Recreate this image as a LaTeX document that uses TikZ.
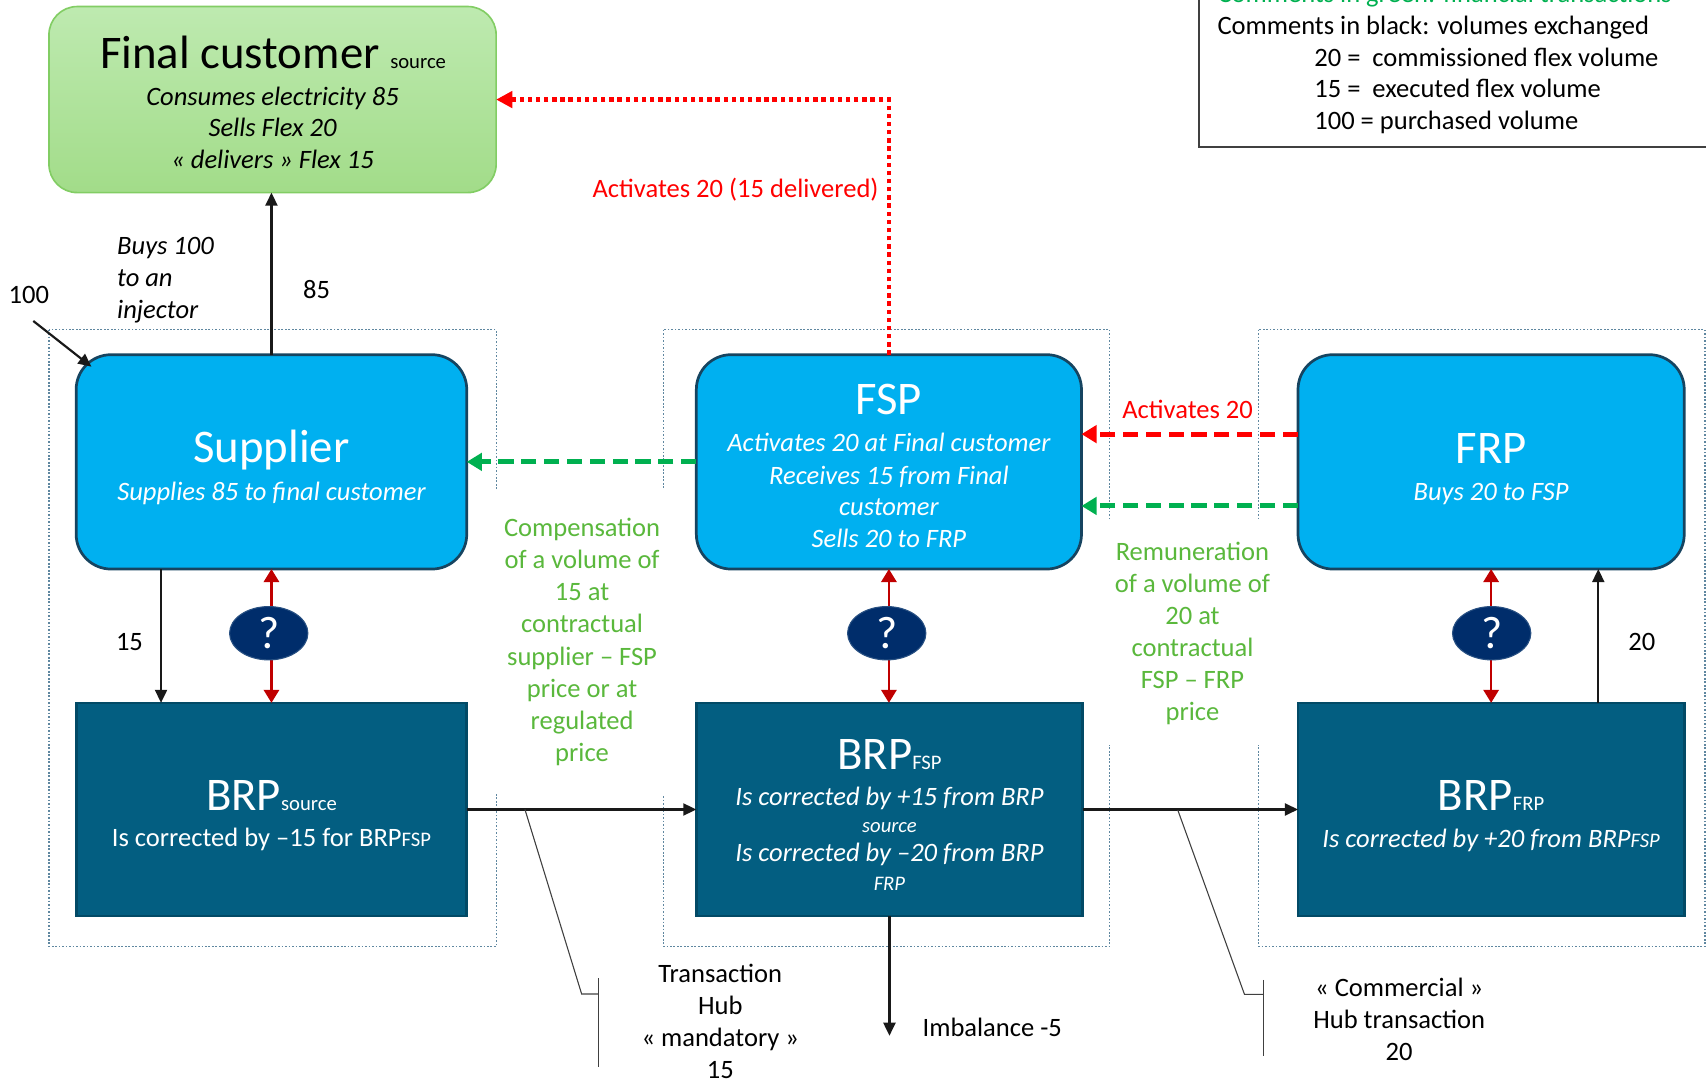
\documentclass[tikz,border=0pt]{standalone}
\usepackage{fontspec}
\setmainfont{Carlito}
\usetikzlibrary{arrows.meta,shapes.geometric,calc}

\definecolor{cyanfill}{RGB}{0,176,240}
\definecolor{cyanborder}{RGB}{22,68,96}
\definecolor{brpfill}{RGB}{3,94,129}
\definecolor{brpborder}{RGB}{2,74,102}
\definecolor{qfill}{RGB}{0,45,107}
\definecolor{qborder}{RGB}{40,80,130}
\definecolor{darkred}{RGB}{192,0,0}
\definecolor{arrgreen}{RGB}{0,176,80}
\definecolor{txtgreen}{RGB}{90,184,60}
\definecolor{dotcol}{RGB}{95,135,160}
\definecolor{fctop}{RGB}{190,234,176}
\definecolor{fcbot}{RGB}{162,220,137}
\definecolor{fcborder}{RGB}{130,205,100}

\newcommand\mybody{\fontsize{24.4}{29.5}\selectfont}
\newcommand\mytitle{\fontsize{43}{50}\selectfont}
\newcommand\mysmall{\fontsize{19}{22}\selectfont}
\newcommand\myq{\fontsize{42}{46}\selectfont}

\tikzset{
  every node/.style={inner sep=0pt, outer sep=0pt},
  cyanbox/.style={draw=cyanborder, line width=2.5pt, fill=cyanfill, rounded corners=32pt},
  brpbox/.style={draw=brpborder, line width=2.5pt, fill=brpfill},
  fcbox/.style={draw=fcborder, line width=1.5pt, top color=fctop, bottom color=fcbot, rounded corners=26pt},
  wtxt/.style={text=white, font=\mybody},
  btxt/.style={text=black, font=\mybody},
  redtxt/.style={text=red, font=\mybody},
  grtxt/.style={text=txtgreen, font=\mybody, align=center, fill=white},
  qell/.style={ellipse, fill=qfill, draw=qborder, line width=1pt, minimum width=72pt, minimum height=49pt, text=white, font=\myq},
  blk/.style={line width=2pt, draw=black!90, -{Triangle[length=12pt,width=11pt]}},
  reddbl/.style={line width=2.4pt, draw=darkred, {Triangle[length=12pt,width=14pt]}-{Triangle[length=12pt,width=14pt]}},
  reddot/.style={line width=4pt, draw=red, dash pattern=on 4pt off 3.5pt, -{Triangle[length=15pt,width=15pt]}},
  reddash/.style={line width=4.5pt, draw=red, dash pattern=on 14pt off 7pt, -{Triangle[length=14pt,width=16pt]}},
  grdash/.style={line width=4.5pt, draw=arrgreen, dash pattern=on 14pt off 7pt, -{Triangle[length=14pt,width=16pt]}},
  thinln/.style={line width=1pt, draw=black!75},
  dotbox/.style={draw=dotcol, line width=1.1pt, dash pattern=on 1.6pt off 1.6pt},
  legendln/.style={draw=black!75, line width=1.3pt}
}

\begin{document}
\begin{tikzpicture}[x=1pt,y=-1pt]
\path[use as bounding box] (0,0) rectangle (1568,994);

% legend
\draw[legendln] (1102,-10) -- (1102,135) -- (1580,135);
\node[anchor=base west, text=arrgreen, font=\mybody] (lg0) at (1119,2.5) {Comments in green: financial transactions};
\node[anchor=base west, btxt] (lg1) at (1119,31.6) {Comments in black: volumes exchanged};
\node[anchor=base west, btxt] (lg2) at (1208,60.7) {20 =\ \ commissioned flex volume};
\node[anchor=base west, btxt] (lg3) at (1208,89.8) {15 =\ \ executed flex volume};
\node[anchor=base west, btxt] (lg4) at (1208,118.8) {100 = purchased volume};

% dotted group frames
\draw[dotbox] (45,303) rectangle (456,870);
\draw[dotbox] (610,303) rectangle (1020,870);
\draw[dotbox] (1157,303) rectangle (1567,870);

% green comment texts (white background hides the frames)
\node[grtxt, minimum width=176pt, minimum height=279pt] (comp) at (535,590)
  {Compensation\\of a volume of\\15 at\\contractual\\supplier – FSP\\price or at\\regulated\\price};
\node[grtxt, minimum width=170pt, minimum height=206pt] (remu) at (1096,582)
  {Remuneration\\of a volume of\\20 at\\contractual\\FSP – FRP\\price};

% main boxes
\node[fcbox, minimum width=411pt, minimum height=171pt] (fc) at (250.5,91.5) {};
\node[cyanbox, minimum width=359pt, minimum height=197pt] (sup) at (249.5,424.5) {};
\node[cyanbox, minimum width=354pt, minimum height=197pt] (fsp) at (817,424.5) {};
\node[cyanbox, minimum width=355pt, minimum height=197pt] (frp) at (1370.5,424.5) {};
\node[brpbox, minimum width=359pt, minimum height=196pt] (brps) at (249.5,744) {};
\node[brpbox, minimum width=355pt, minimum height=196pt] (brpf) at (817.5,744) {};
\node[brpbox, minimum width=355pt, minimum height=196pt] (brpr) at (1370.5,744) {};

% texts in boxes
\node[anchor=base] (fcT) at (251,62.8) {{\mytitle Final customer }{\mysmall source}};
\node[anchor=base, btxt, font=\mybody\itshape] (fc1) at (250.5,97.4) {Consumes electricity 85};
\node[anchor=base, btxt, font=\mybody\itshape] (fc2) at (250.5,125.6) {Sells Flex 20};
\node[anchor=base, btxt, font=\mybody\itshape] (fc3) at (250.5,154.6) {« delivers » Flex 15};

\node[anchor=base, text=white, font=\mytitle] (supT) at (249.5,425) {Supplier};
\node[anchor=base, wtxt, font=\mybody\itshape] (supS) at (249.5,460) {Supplies 85 to final customer};

\node[anchor=base, text=white, font=\mytitle] (fspT) at (817,381.4) {FSP};
\node[anchor=base, wtxt, font=\mybody\itshape] (fsp1) at (817,415) {Activates 20 at Final customer};
\node[anchor=base, wtxt, font=\mybody\itshape] (fsp2) at (817,445) {Receives 15 from Final};
\node[anchor=base, wtxt, font=\mybody\itshape] (fsp3) at (817,474) {customer};
\node[anchor=base, wtxt, font=\mybody\itshape] (fsp4) at (817,503) {Sells 20 to FRP};

\node[anchor=base, text=white, font=\mytitle] (frpT) at (1370.5,425.7) {FRP};
\node[anchor=base, wtxt, font=\mybody\itshape] (frpS) at (1370.5,459.6) {Buys 20 to FSP};

\node[anchor=base, text=white] (brpsT) at (249.5,744.5) {{\mytitle BRP}{\mysmall source}};
\node[anchor=base, wtxt] (brpsS) at (249.5,778) {Is corrected by –15 for BRP{\mysmall FSP}};

\node[anchor=base, text=white] (brpfT) at (817.5,707) {{\mytitle BRP}{\mysmall FSP}};
\node[anchor=base, wtxt, font=\mybody\itshape] (brpf1) at (817.5,740) {Is corrected by +15 from BRP};
\node[anchor=base, text=white, font=\mysmall\itshape] (brpf2) at (817.5,765) {source};
\node[anchor=base, wtxt, font=\mybody\itshape] (brpf3) at (817.5,792) {Is corrected by –20 from BRP};
\node[anchor=base, text=white, font=\mysmall\itshape] (brpf4) at (817.5,818) {FRP};

\node[anchor=base, text=white] (brprT) at (1370.5,744.5) {{\mytitle BRP}{\mysmall FRP}};
\node[anchor=base, wtxt, font=\mybody\itshape] (brprS) at (1370.5,778.6) {Is corrected by +20 from BRP{\mysmall FSP}};

% coordinates for free ends
\coordinate (c100s) at (30.6,295);
\coordinate (c100e) at (84,337);
\coordinate (imb) at (817.5,952);

% connectors
\draw[blk] (sup.north) -- (sup.north |- fc.south);
\draw[blk] (c100s) -- (c100e);
\draw[blk] ([xshift=-101.5pt]sup.south) -- ([xshift=-101.5pt]brps.north);
\draw[blk] ([xshift=98.5pt]brpr.north) -- ([xshift=98.5pt]frp.south);
\draw[blk] (brps.east) -- (brpf.west);
\draw[blk] (brpf.east) -- (brpr.west);
\draw[blk] (brpf.south) -- (imb);

\draw[reddbl] (sup.south) -- (brps.north);
\draw[reddbl] (fsp.south) -- (fsp.south |- brpf.north);
\draw[reddbl] (frp.south) -- (brpr.north);

\node[qell] (q1) at (247,582) {?};
\node[qell] (q2) at (815,582) {?};
\node[qell] (q3) at (1371,582) {?};

\draw[reddot] (fsp.north) |- (fc.east);
\draw[reddash] ([yshift=25.5pt]frp.west) -- ([yshift=25.5pt]fsp.east);
\draw[grdash] ([yshift=-40.5pt]frp.west) -- ([yshift=-40.5pt]fsp.east);
\draw[grdash] (fsp.west) -- (sup.east);

% labels
\node[btxt] (l85) at (291,266) {85};
\node[btxt] (l100) at (26.5,270.7) {100};
\node[btxt, align=left, anchor=west, font=\mybody\itshape] (buys) at (107.7,257.5) {Buys 100\\to an\\injector};
\node[btxt] (l15) at (119,590) {15};
\node[btxt] (l20) at (1509,590) {20};
\node[btxt] (imbT) at (912,944) {Imbalance -5};
\node[redtxt] (act1) at (676,174) {Activates 20 (15 delivered)};
\node[redtxt] (act2) at (1091.5,376) {Activates 20};

% hub callouts
\node[btxt, align=center] (th) at (662,939) {Transaction\\Hub\\« mandatory »\\15};
\node[btxt, align=center] (ch) at (1286,937) {« Commercial »\\Hub transaction\\20};
\coordinate (t1a) at (482.5,744);
\coordinate (t1b) at (534.6,913.6);
\coordinate (t1c) at (550,913.6);
\coordinate (t1top) at (550,899);
\coordinate (t1bot) at (550,981);
\draw[thinln] (t1a) -- (t1b) -- (t1c);
\draw[thinln] (t1top) -- (t1bot);
\coordinate (t2a) at (1082.5,744.5);
\coordinate (t2b) at (1143.8,913.9);
\coordinate (t2c) at (1161.4,913.9);
\coordinate (t2top) at (1161.4,900.7);
\coordinate (t2bot) at (1161.4,971);
\draw[thinln] (t2a) -- (t2b) -- (t2c);
\draw[thinln] (t2top) -- (t2bot);
\end{tikzpicture}
\end{document}
